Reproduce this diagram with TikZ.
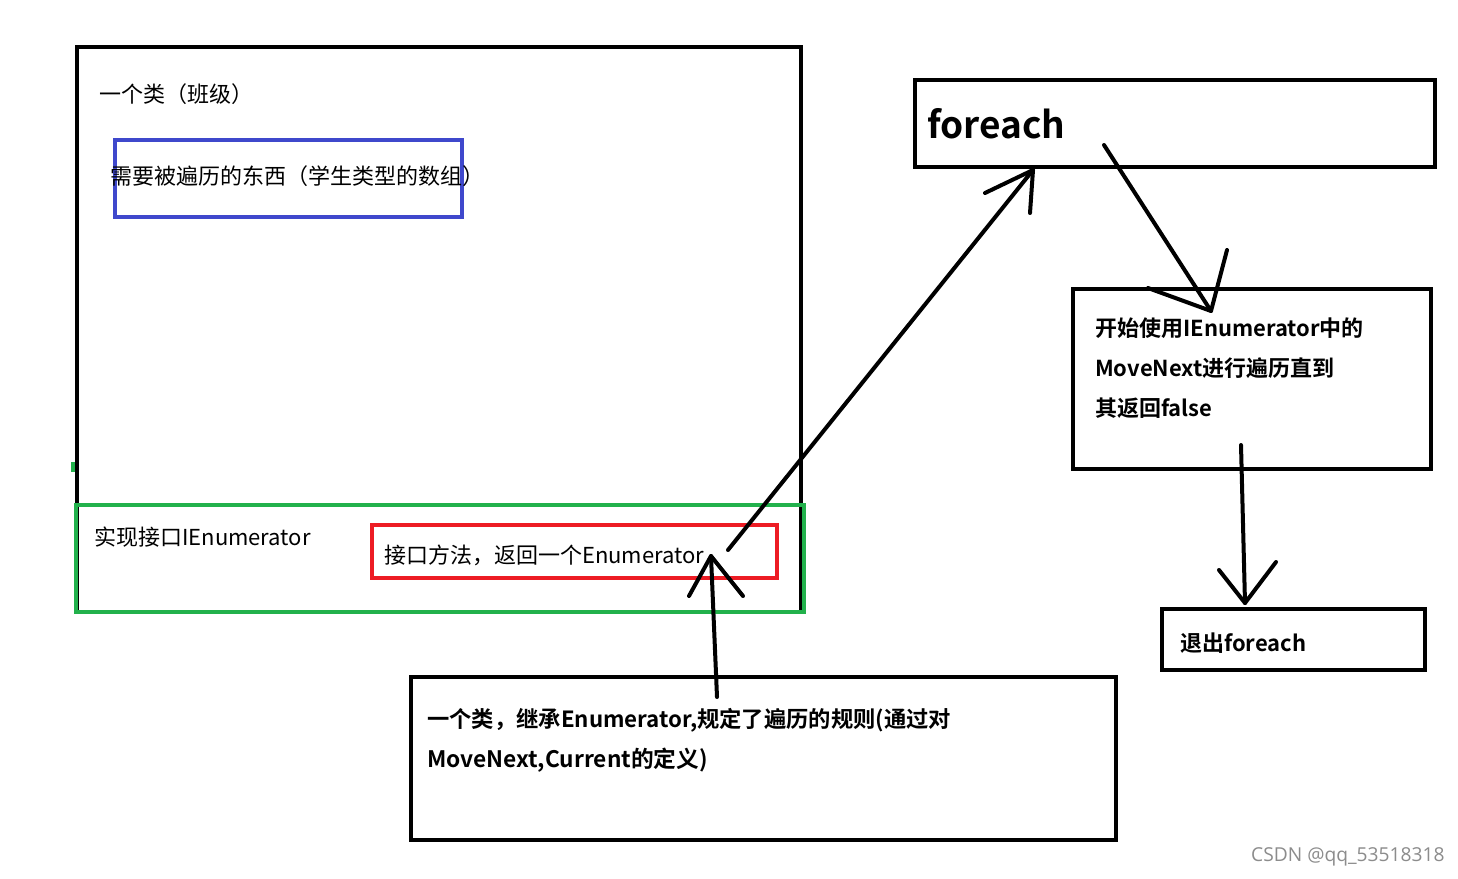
\documentclass[tikz,border=0pt]{standalone}
\usepackage{fontspec}
\newfontfamily\cjk{Noto Sans CJK SC}
\newfontfamily\cjkb{Noto Sans CJK SC Bold}
\newfontfamily\wm{Open Sans}
\begin{document}
\begin{tikzpicture}[x=1pt,y=-1pt,
  box/.style={draw=black,line width=4pt},
  txt/.style={anchor=west,inner sep=0pt,font=\cjk\fontsize{22}{26}\selectfont},
  btxt/.style={anchor=west,inner sep=0pt,font=\cjkb\fontsize{22}{26}\selectfont},
  pen/.style={line width=4pt,line cap=round,line join=round}]
\useasboundingbox[fill=white] (0,0) rectangle (1458,878);
% big class box
\draw[box] (77,47) rectangle (801,612);
\draw[draw={rgb,255:red,34;green,177;blue,76},line width=4pt] (73,462) -- (73,472);
\draw[draw={rgb,255:red,34;green,177;blue,76},line width=4pt] (76,505) rectangle (804,612);
\draw[draw={rgb,255:red,63;green,72;blue,204},line width=4pt] (115,140) rectangle (462,217);
\draw[draw={rgb,255:red,237;green,28;blue,36},line width=4pt] (372,525) rectangle (777,578);
\node[txt] (cls) at (99,94) {一个类（班级）};
\node[txt] (arr) at (110,176) {需要被遍历的东西（学生类型的数组）};
\node[txt] (impl) at (94,537) {实现接口IEnumerator};
\node[txt] (meth) at (384,555) {接口方法，返回一个Enumerator};
% foreach box
\draw[box] (915,80) rectangle (1435,167);
\node[anchor=west,inner sep=0pt,font=\cjkb\fontsize{37}{40}\selectfont] (fe) at (927,124) {foreach};
% move next box
\draw[box] (1073,289) rectangle (1431,469);
\node[btxt] (m1) at (1095,328) {开始使用IEnumerator中的};
\node[btxt] (m2) at (1095,368) {MoveNext进行遍历直到};
\node[btxt] (m3) at (1095,408) {其返回false};
% exit box
\draw[box] (1162,609) rectangle (1425,670);
\node[btxt] (ex) at (1180,643) {退出foreach};
% enumerator class box
\draw[box] (411,677) rectangle (1116,840);
\node[btxt,font=\cjkb\fontsize{22.3}{26}\selectfont] (e1) at (427,720) {一个类，继承Enumerator,规定了遍历的规则(通过对};
\node[btxt,font=\cjkb\fontsize{22.7}{26}\selectfont] (e2) at (427,760) {MoveNext,Current的定义)};
% watermark
\node[anchor=west,inner sep=0pt,text=black!45,font=\wm\fontsize{19.2}{21}\selectfont] (w) at (1251,857) {CSDN @qq\_53518318};
% hand-drawn arrows
\coordinate (a1s) at (728,550); \coordinate (a1e) at (1033,170);
\coordinate (a1l) at (985,193); \coordinate (a1r) at (1030,213);
\draw[pen] (a1s) -- (a1e); \draw[pen] (a1l) -- (a1e) -- (a1r);
\coordinate (a2s) at (1104,145); \coordinate (a2e) at (1211,311);
\coordinate (a2l) at (1148,288); \coordinate (a2r) at (1227,250);
\draw[pen] (a2s) -- (a2e); \draw[pen] (a2l) -- (a2e) -- (a2r);
\coordinate (a3s) at (1241,445); \coordinate (a3e) at (1245,603);
\coordinate (a3l) at (1219,570); \coordinate (a3r) at (1276,562);
\draw[pen] (a3s) -- (a3e); \draw[pen] (a3l) -- (a3e) -- (a3r);
\coordinate (a4s) at (717,697); \coordinate (a4e) at (711,556);
\coordinate (a4l) at (689,596); \coordinate (a4r) at (743,596);
\draw[pen] (a4s) -- (a4e); \draw[pen] (a4l) -- (a4e) -- (a4r);
\end{tikzpicture}
\end{document}
